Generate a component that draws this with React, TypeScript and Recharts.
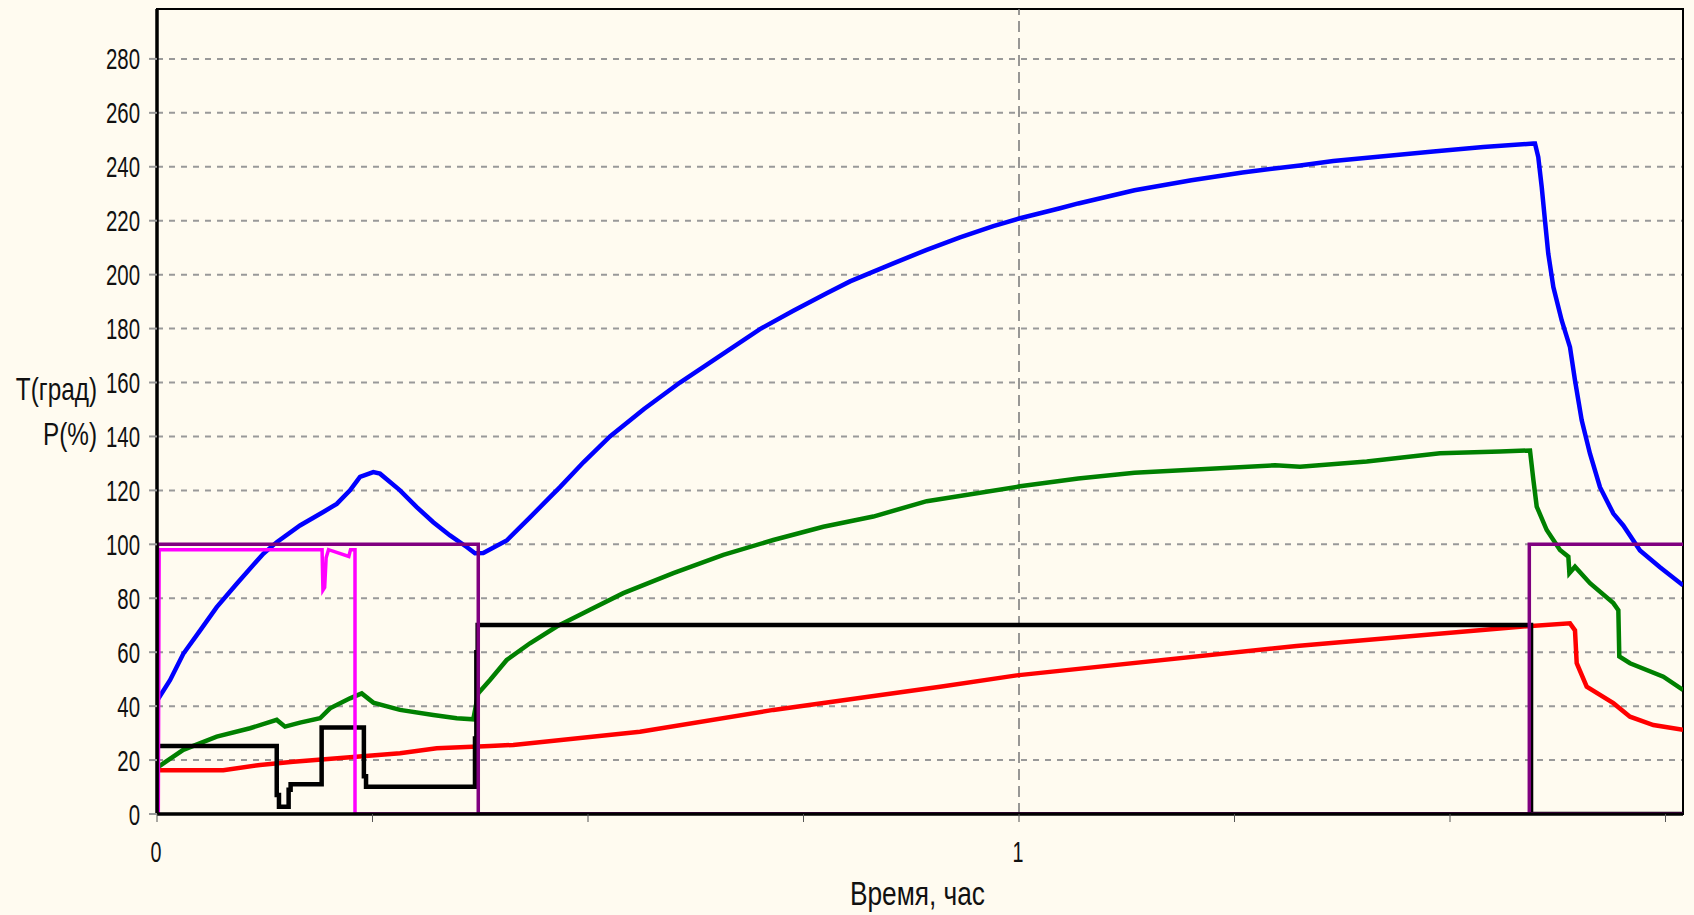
import React from "react";
import {
  LineChart,
  Line,
  XAxis,
  YAxis,
  CartesianGrid,
  ReferenceLine,
  ReferenceArea,
  Label,
} from "recharts";

// ---------- axes ----------
const X_MAX = 1.7703;
const Y_MAX = 298.5;
const xTicks = [0, 0.25, 0.5, 0.75, 1, 1.25, 1.5, 1.75];
const xLabelled = [0, 1];
const yTicks = [0, 20, 40, 60, 80, 100, 120, 140, 160, 180, 200, 220, 240, 260, 280];
const yMinorTicks = Array.from({ length: 60 }, (_, i) => i * 5);
const xMinorTicks = Array.from({ length: 178 }, (_, i) => +(i * 0.01).toFixed(2));

const xAxisTitle = "Время, час";
const yAxisTitle1 = "T(град)";
const yAxisTitle2 = "P(%)";

// ---------- series (time in hours, value) ----------
const blueT = [
  0, 0.0151, 0.0305, 0.0499, 0.0693, 0.0925, 0.1233, 0.1389, 0.1659, 0.1929, 0.2085,
  0.2239, 0.2355, 0.2509, 0.2587, 0.2819, 0.3013, 0.3205, 0.3399, 0.3593, 0.3689,
  0.3785, 0.4057, 0.4327, 0.4559, 0.4675, 0.4950, 0.5255, 0.5650, 0.6067, 0.6609,
  0.6995, 0.7382, 0.7769, 0.8040, 0.8542, 0.8929, 0.9316, 0.9702, 1.0012, 1.0476,
  1.0688, 1.134, 1.2, 1.2593, 1.326, 1.3646, 1.4226, 1.4806, 1.5387, 1.5967, 1.5986,
  1.6024, 1.6064, 1.6102, 1.614, 1.6199, 1.6296, 1.6392, 1.645, 1.6528, 1.6624, 1.674,
  1.6895, 1.701, 1.7204, 1.7436, 1.7703,
];
const blueV = [
  42, 49.6, 59.4, 68, 76.7, 85.4, 96.5, 100.8, 107, 112, 115, 120, 125, 126.8, 126.2,
  120, 113.8, 108.2, 103.3, 99, 96.7, 96.8, 101.4, 110, 117.5, 121.2, 130.5, 140, 150.2,
  160, 171.5, 179.8, 186.6, 193.1, 197.5, 204.2, 209.2, 213.8, 218, 220.9, 224.6, 226.4,
  231.3, 235, 237.9, 240.5, 242.1, 243.9, 245.7, 247.3, 248.6, 248.6, 243.6, 232.5,
  220, 207.8, 195.4, 183, 173.1, 160.8, 146, 133.6, 121.2, 111.4, 107, 97.7, 91.5, 84.8,
];

const greenT = [
  0.0015, 0.0305, 0.0693, 0.1079, 0.1389, 0.1485, 0.1659, 0.1891, 0.2007, 0.2239,
  0.2375, 0.2509, 0.2819, 0.3205, 0.3477, 0.3669, 0.3727, 0.3863, 0.4057, 0.4327,
  0.4637, 0.5023, 0.541, 0.599, 0.657, 0.715, 0.773, 0.831, 0.893, 1.0012, 1.0688,
  1.134, 1.297, 1.326, 1.4034, 1.4884, 1.558, 1.5928, 1.5967, 1.6006, 1.6122, 1.6276,
  1.6373, 1.6385, 1.645, 1.6624, 1.6895, 1.6953, 1.6964, 1.7088, 1.7475, 1.7703,
];
const greenV = [
  17.5, 23.8, 28.7, 31.8, 34.9, 32.4, 33.9, 35.5, 39.2, 42.9, 44.7, 41.3, 38.6, 36.7,
  35.5, 35.1, 44.8, 49.7, 57.1, 63.3, 69.5, 75.7, 81.9, 89.3, 96.1, 101.6, 106.5, 110.3,
  116, 121.5, 124.4, 126.5, 129.3, 128.8, 130.7, 133.8, 134.4, 134.8, 123.9, 114,
  105.3, 97.9, 95.4, 89.3, 91.7, 85.6, 78.2, 75.6, 58.4, 55.9, 50.9, 46,
];

const redT = [
  0.0015, 0.0769, 0.1195, 0.1581, 0.2239, 0.2819, 0.3245, 0.3863, 0.4133, 0.5603,
  0.715, 0.9084, 0.9973, 1.3219, 1.5847, 1.6392, 1.645, 1.647, 1.6586, 1.6895, 1.7088,
  1.7359, 1.7703,
];
const redV = [
  16.2, 16.2, 18.2, 19.4, 21, 22.5, 24.4, 25.2, 25.6, 30.5, 38.6, 47.2, 51.4, 62.3,
  69.5, 70.7, 68.1, 55.9, 47.2, 41.1, 36.1, 33, 31.2,
];

const blackT = [0, 0, 0.1389, 0.1415, 0.1527, 0.155, 0.191, 0.24, 0.2425, 0.3689, 0.3705, 0.372, 1.594, 1.7703];
const blackV = [0, 25.2, 7, 2.7, 9, 11, 32.1, 14, 10.1, 28, 60, 70.1, 0, 0];

const pinkT = [0, 0.0015, 0.0025, 0.1915, 0.1925, 0.1945, 0.1962, 0.199, 0.2225, 0.2245, 0.2297, 0.2297, 1.7703];
const pinkV = [0, 0, 98, 98, 83, 84, 95, 98, 95.5, 98, 98, 0, 0];

const purpleT = [0, 0.0005, 0.3727, 1.592, 1.7703];
const purpleV = [0, 100, 0, 100, 100];

const zip = (t: number[], v: number[]) => t.map((x, i) => ({ t: x, v: v[i] }));
const blueData = zip(blueT, blueV);
const greenData = zip(greenT, greenV);
const redData = zip(redT, redV);
const blackData = zip(blackT, blackV);
const pinkData = zip(pinkT, pinkV);
const purpleData = zip(purpleT, purpleV);

const FONT = "'Liberation Sans', Arial, sans-serif";
const NARROW = 0.68;

const YTick = (props: any) => {
  const { x, y, payload } = props;
  const s = String(payload.value);
  return (
    <g transform={`translate(${x},${y}) scale(${NARROW},1)`}>
      <text x={0} y={0} dy={10.5} textAnchor="end" fontFamily={FONT} fontSize={30} fill="#111">
        {s}
      </text>
    </g>
  );
};

const XTick = (props: any) => {
  const { x, y, payload } = props;
  if (!xLabelled.includes(payload.value)) return <g />;
  const s = String(payload.value);
  return (
    <g transform={`translate(${x - 1},${y}) scale(${NARROW},1)`}>
      <text x={0} y={0} dy={38} textAnchor="middle" fontFamily={FONT} fontSize={29} fill="#111">
        {s}
      </text>
    </g>
  );
};

const YTitle = (props: any) => {
  const vb = props.viewBox || { x: 0, y: 9, width: 157, height: 805 };
  const mid = vb.y + vb.height / 2;
  return (
    <g>
      <g transform={`translate(97,${mid - 11.5}) scale(0.76,1)`}>
        <text x={0} y={0} textAnchor="end" fontFamily={FONT} fontSize={32} fill="#111">
          {yAxisTitle1}
        </text>
      </g>
      <g transform={`translate(97,${mid + 33}) scale(0.76,1)`}>
        <text x={0} y={0} textAnchor="end" fontFamily={FONT} fontSize={32} fill="#111">
          {yAxisTitle2}
        </text>
      </g>
    </g>
  );
};

const XTitle = (props: any) => {
  const vb = props.viewBox || { x: 157, y: 814, width: 1526, height: 50 };
  return (
    <text
      x={vb.x + vb.width / 2 - 2.5}
      y={vb.y + 91}
      textAnchor="middle"
      fontFamily={FONT}
      fontSize={33}
      fill="#111"
      textLength={135}
      lengthAdjust="spacingAndGlyphs"
    >
      {xAxisTitle}
    </text>
  );
};

export default function App() {
  return (
    <div
      style={{
        position: "fixed",
        left: 0,
        top: 0,
        width: 1694,
        height: 915,
        background: "#FFFBF0",
      }}
    >
      <LineChart width={1694} height={915} margin={{ top: 9, right: 11, left: 0, bottom: 51 }}>
        <XAxis
          xAxisId="minor"
          type="number"
          dataKey="t"
          domain={[0, X_MAX]}
          ticks={xMinorTicks}
          interval={0}
          height={0}
          tick={false}
          axisLine={false}
          tickLine={{ stroke: "#000", strokeWidth: 2 }}
          tickSize={3}
          allowDataOverflow
        />
        <XAxis
          type="number"
          dataKey="t"
          domain={[0, X_MAX]}
          ticks={xTicks}
          interval={0}
          height={50}
          tick={<XTick />}
          tickSize={8}
          tickMargin={2}
          tickLine={{ stroke: "#555", strokeWidth: 1 }}
          axisLine={{ stroke: "#000", strokeWidth: 3.5 }}
          allowDataOverflow
          label={<Label content={<XTitle />} />}
        />
        <YAxis
          yAxisId="minor"
          type="number"
          domain={[0, Y_MAX]}
          ticks={yMinorTicks}
          interval={0}
          width={0}
          tick={false}
          axisLine={false}
          tickLine={{ stroke: "#999", strokeWidth: 2 }}
          tickSize={3}
          allowDataOverflow
        />
        <YAxis
          type="number"
          domain={[0, Y_MAX]}
          ticks={yTicks}
          interval={0}
          width={157}
          tick={<YTick />}
          tickSize={8}
          tickMargin={9}
          tickLine={{ stroke: "#999", strokeWidth: 2 }}
          axisLine={{ stroke: "#000", strokeWidth: 3.5 }}
          allowDataOverflow
          label={<Label content={<YTitle />} />}
        />
        <CartesianGrid vertical={false} stroke="#999" strokeWidth={2} strokeDasharray="6 6" />
        <ReferenceLine x={1} stroke="#777" strokeWidth={1.5} strokeDasharray="11 6" />
        <ReferenceArea x1={0} x2={X_MAX} y1={0} y2={Y_MAX} fill="none" fillOpacity={0} stroke="#000" strokeWidth={2} />
        <Line data={redData} dataKey="v" type="linear" stroke="#FF0000" strokeWidth={4.5} dot={false} isAnimationActive={false} />
        <Line data={greenData} dataKey="v" type="linear" stroke="#008000" strokeWidth={4.5} dot={false} isAnimationActive={false} />
        <Line data={blueData} dataKey="v" type="linear" stroke="#0000FF" strokeWidth={4.5} dot={false} isAnimationActive={false} />
        <Line data={blackData} dataKey="v" type="stepAfter" stroke="#000000" strokeWidth={4.5} dot={false} isAnimationActive={false} />
        <Line data={pinkData} dataKey="v" type="linear" stroke="#FF00FF" strokeWidth={3.5} dot={false} isAnimationActive={false} />
        <Line data={purpleData} dataKey="v" type="stepAfter" stroke="#800080" strokeWidth={3.5} dot={false} isAnimationActive={false} />
      </LineChart>
    </div>
  );
}
